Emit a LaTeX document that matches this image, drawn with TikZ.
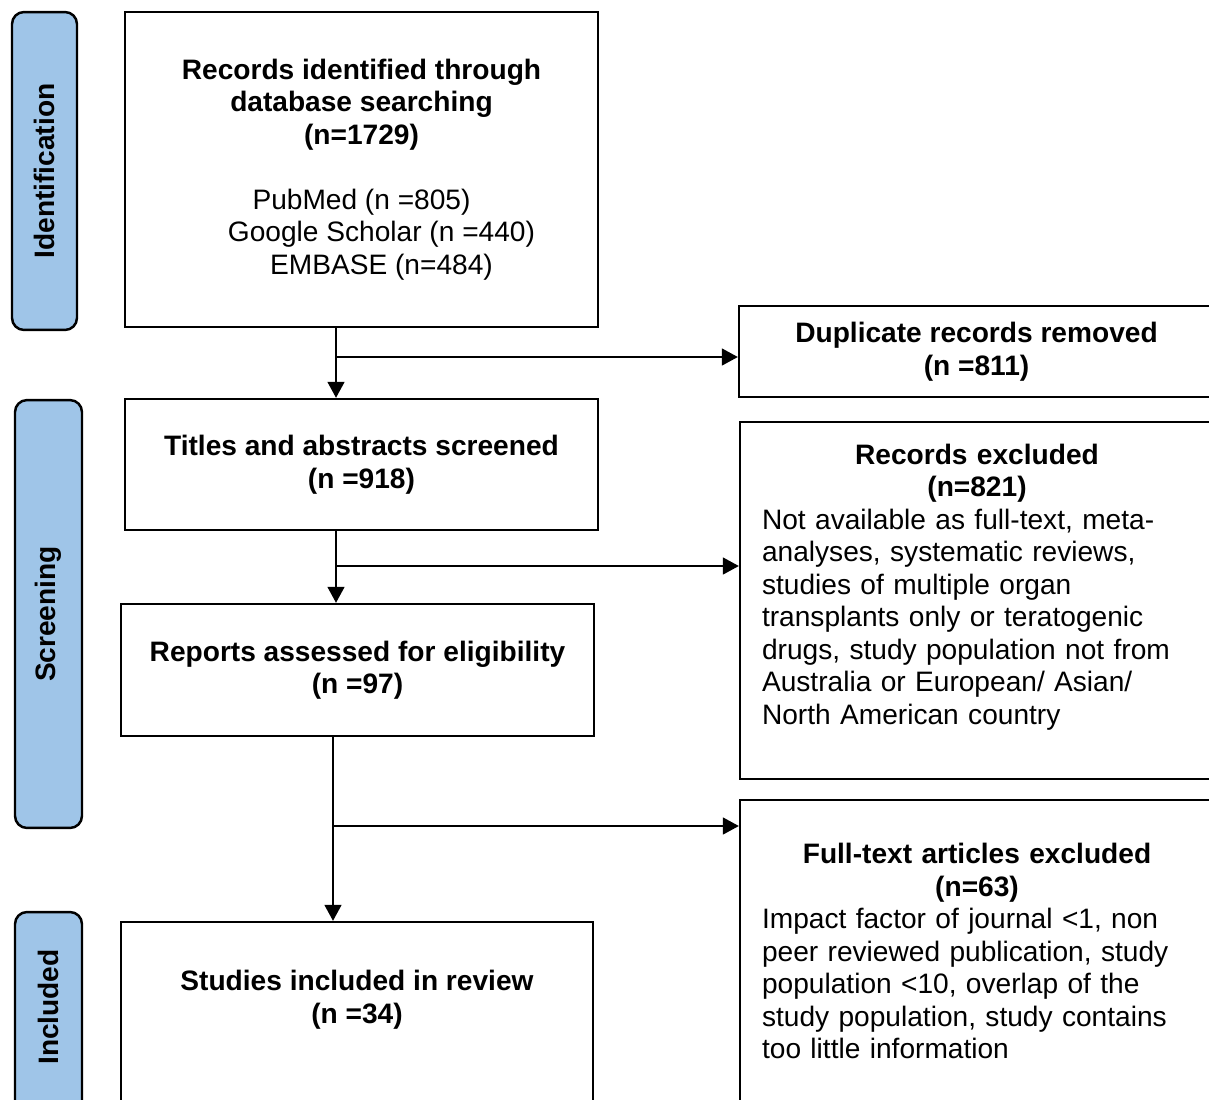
\documentclass[tikz,border=0pt]{standalone}
\usepackage{fontspec}
\setmainfont{Liberation Sans}
\usepackage{tikz}
\usetikzlibrary{arrows.meta}
\definecolor{stageblue}{RGB}{159,197,232}

\begin{document}
\begin{tikzpicture}[x=0.02cm,y=-0.02cm,
    every node/.style={font=\fontsize{16}{18.5}\selectfont},
    stage/.style={draw,line width=1.4pt,fill=stageblue,rounded corners=0.24cm,rotate=90,
      inner sep=0pt,font=\fontsize{16}{18.5}\selectfont\bfseries},
    flowbox/.style={draw,line width=1.4pt,align=center,inner sep=0pt},
    notebox/.style={draw,line width=1.4pt,inner xsep=0.44cm,inner ysep=0pt,text width=8.6cm},
    link/.style={line width=0.9pt,-{Triangle[length=0.32cm,width=0.34cm]}}]
  \useasboundingbox (0,0) rectangle (1209,1099);
  \clip (0,0) rectangle (1209,1099);
  \node[stage,minimum width=6.36cm,minimum height=1.3cm] (ident) at (44.5,171) {Identification};
  \node[stage,minimum width=8.56cm,minimum height=1.34cm] (screen) at (48.5,614) {Screening};
  \node[stage,minimum width=4.16cm,minimum height=1.34cm] (incl) at (48.5,1016) {\hspace*{0.36cm}Included};
  \node[flowbox,minimum width=9.46cm,minimum height=6.3cm] (found) at (361.5,169.5)
    {\textbf{Records identified through}\\\textbf{database searching}\\\textbf{(n=1729)}\\[18.5pt]
     PubMed (n =805)\\\hspace*{0.8cm}Google Scholar (n =440)\\\hspace*{0.8cm}EMBASE (n=484)};
  \node[flowbox,minimum width=9.5cm,minimum height=1.82cm] (dup) at (976.5,351.5)
    {\textbf{Duplicate records removed}\\\textbf{(n =811)}};
  \node[flowbox,minimum width=9.46cm,minimum height=2.62cm] (screened) at (361.5,464.5)
    {\textbf{Titles and abstracts screened}\\\textbf{(n =918)}};
  \node[notebox,minimum height=7.14cm] (excl) at (977,600.5)
    {\centering\bfseries Records excluded\\(n=821)\par\raggedright\mdseries
     Not available as full-text, meta-\\analyses, systematic reviews,\\studies of multiple organ\\
     transplants only or teratogenic\\drugs, study population not from\\Australia or European/ Asian/\\
     North American country\\\mbox{}};
  \node[flowbox,minimum width=9.46cm,minimum height=2.64cm] (assessed) at (357.5,670)
    {\textbf{Reports assessed for eligibility}\\\textbf{(n =97)}};
  \node[notebox,minimum height=6.04cm] (ftexcl) at (977,951)
    {\centering\bfseries Full-text articles excluded\\(n=63)\par\raggedright\mdseries
     Impact factor of journal <1, non\\peer reviewed publication, study\\population <10, overlap of the\\
     study population, study contains\\too little information};
  \node[flowbox,minimum width=9.44cm,minimum height=3.64cm] (included) at (357,1013)
    {\textbf{Studies included in review}\\\textbf{(n =34)}\\\mbox{}};
  \coordinate (dupsplit) at (336,357);
  \coordinate (exclsplit) at (336,566);
  \coordinate (ftsplit) at (333,826);
  \draw[link] (dupsplit |- found.south) -- (dupsplit |- screened.north);
  \draw[link] (dupsplit) -- (dupsplit -| dup.west);
  \draw[link] (exclsplit |- screened.south) -- (exclsplit |- assessed.north);
  \draw[link] (exclsplit) -- (exclsplit -| excl.west);
  \draw[link] (ftsplit |- assessed.south) -- (ftsplit |- included.north);
  \draw[link] (ftsplit) -- (ftsplit -| ftexcl.west);
\end{tikzpicture}
\end{document}
